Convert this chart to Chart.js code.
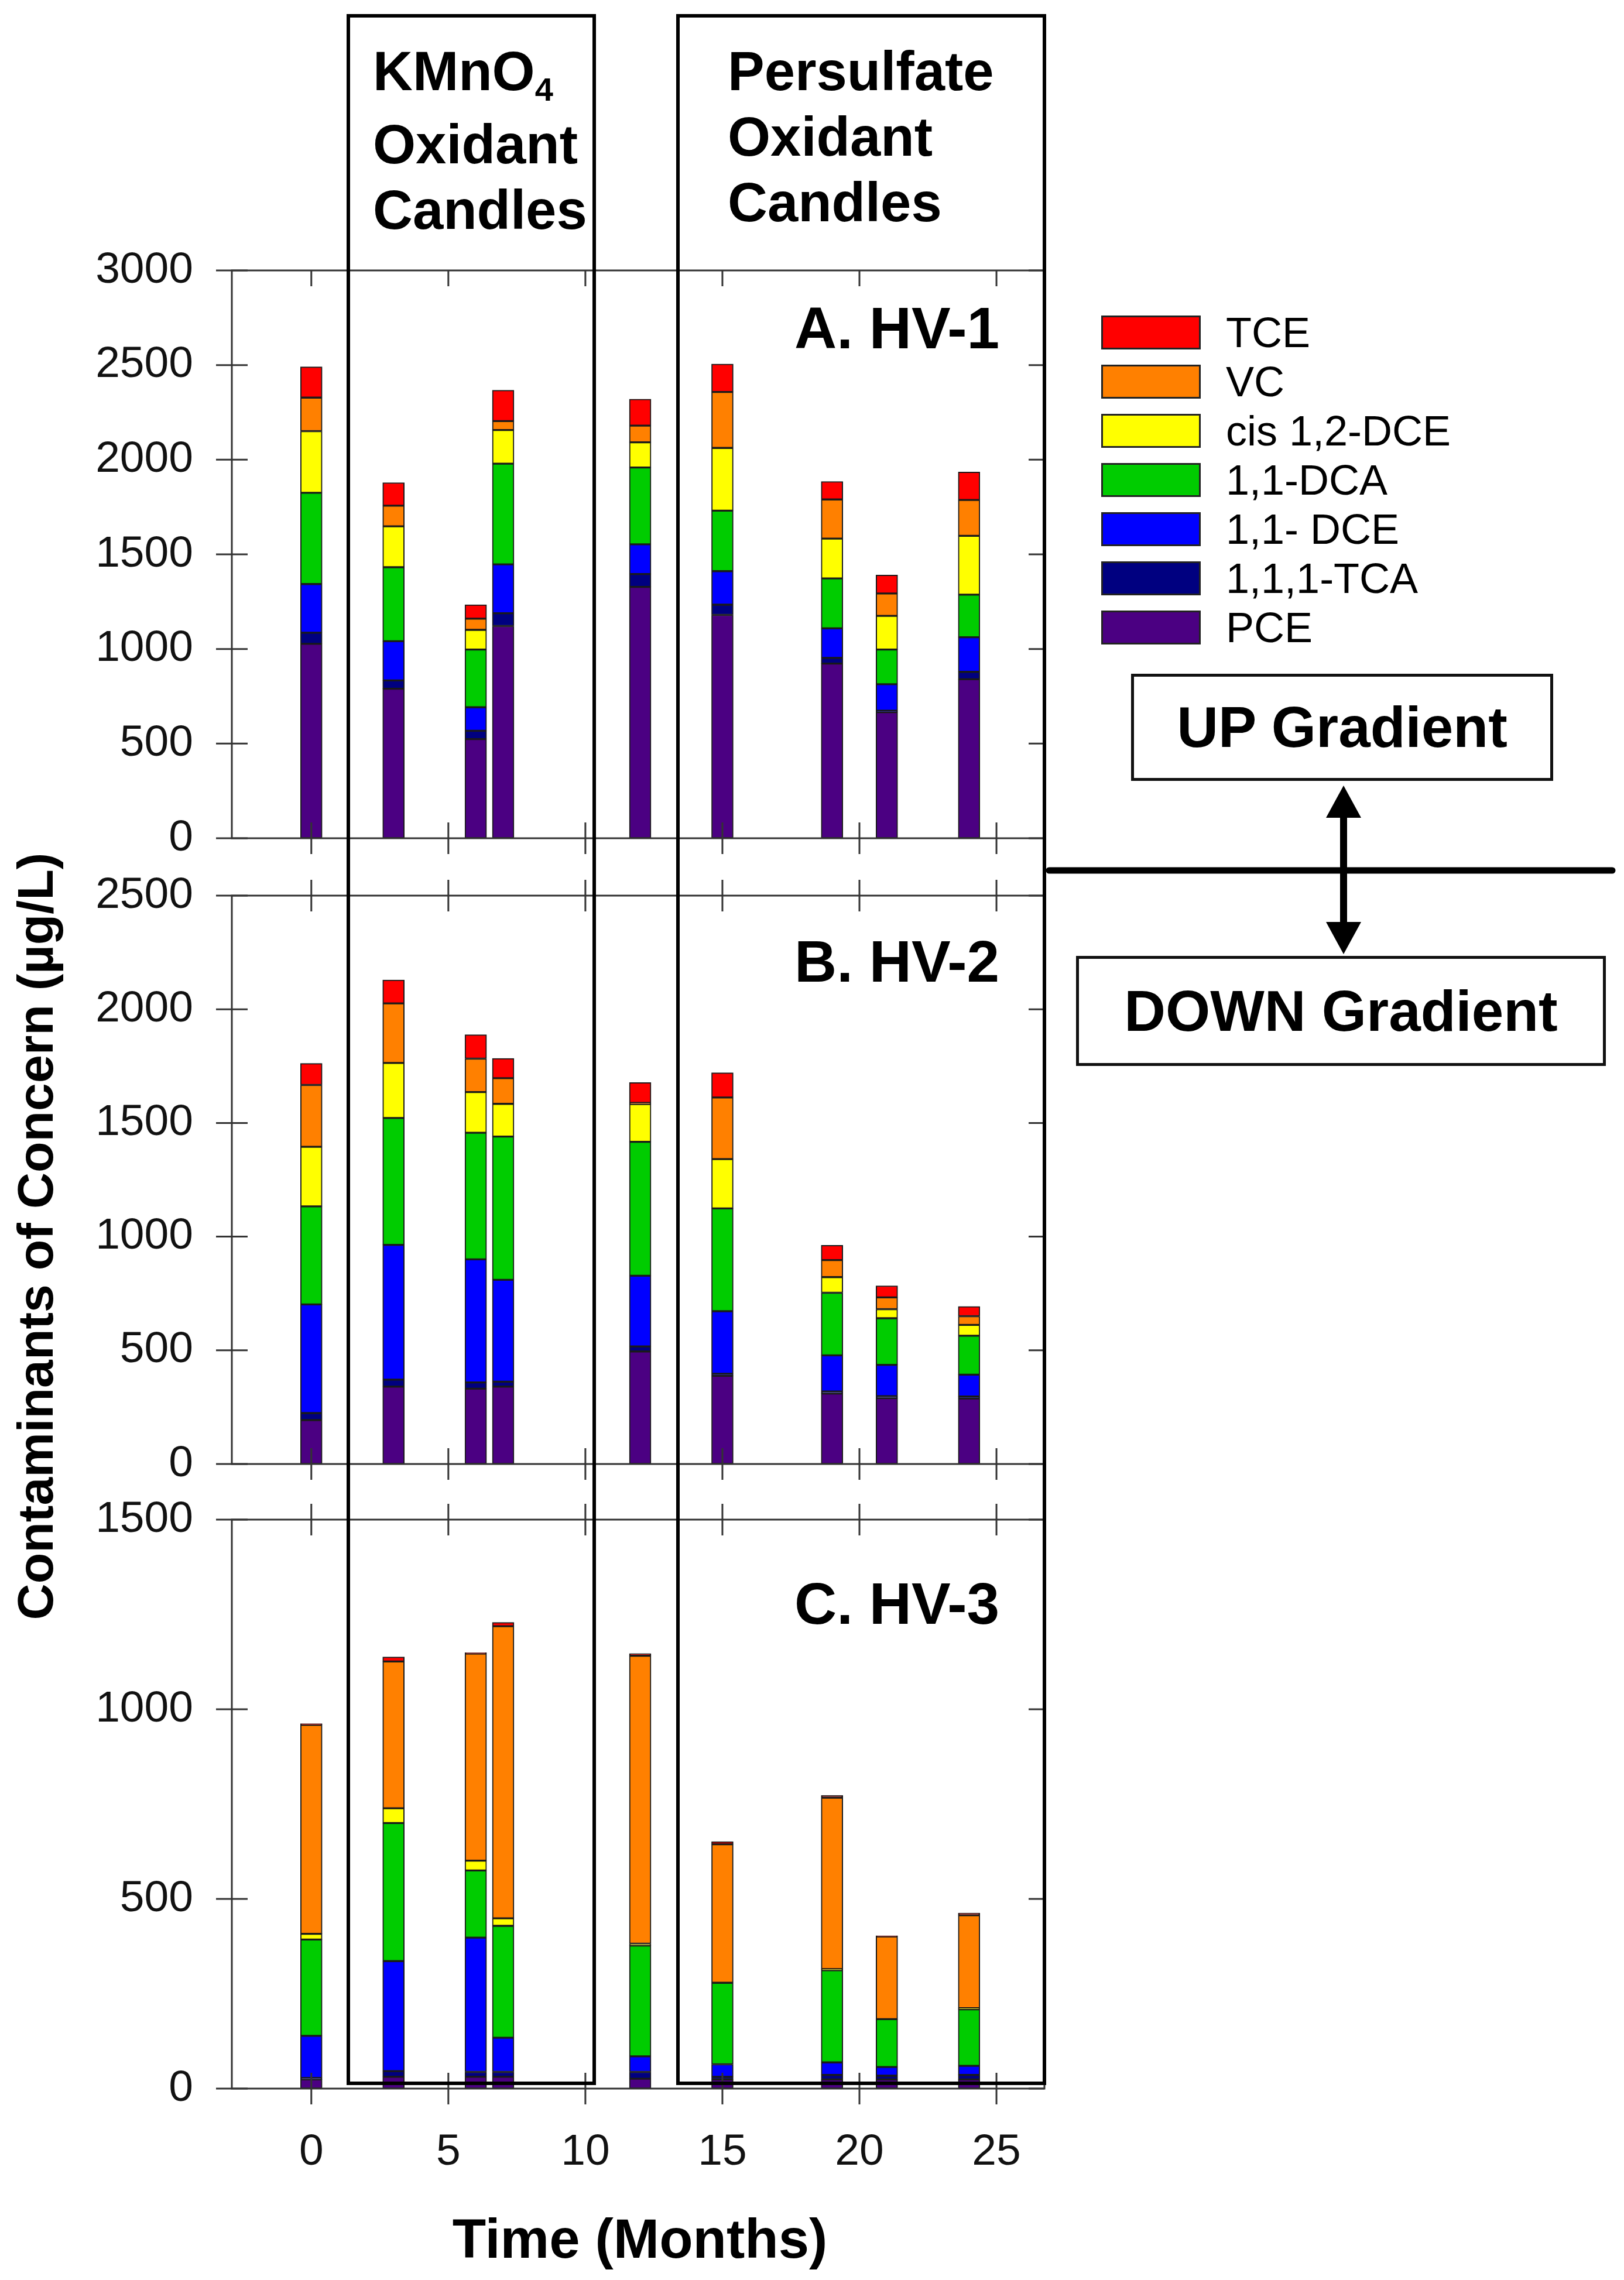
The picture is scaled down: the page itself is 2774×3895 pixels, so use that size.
<!DOCTYPE html>
<html>
<head>
<meta charset="utf-8">
<title>Contaminants of Concern, HV-1 to HV-3</title>
<script src="https://cdn.jsdelivr.net/npm/chart.js@4.4.1/dist/chart.umd.min.js"></script>
<style>
  html, body { margin: 0; padding: 0; background: #fff; }
  body {
    position: relative; width: 2774px; height: 3895px; overflow: hidden;
    font-family: 'Liberation Sans', Arial, sans-serif; color: #000;
  }
  canvas { position: absolute; display: block; }
  .note { position: absolute; white-space: nowrap; font-weight: bold; z-index: 3; }
  .oxbox { position: absolute; box-sizing: border-box; border: 6px solid #000; z-index: 2; }
  .oxtext { font-size: 94px; line-height: 112px; }
  .sub { font-size: 56px; position: relative; top: 18px; }
  .panel-label { font-size: 100px; line-height: 100px; }
  .legend-row { position: absolute; left: 1881px; height: 58px; display: flex; align-items: center; z-index: 3; }
  .legend-row .sw { width: 170px; height: 58px; box-sizing: border-box; border: 3px solid #222; }
  .legend-row .tx { margin-left: 43px; font-size: 72px; line-height: 58px; }
  .gradbox {
    position: absolute; box-sizing: border-box; border: 5px solid #111; background: #fff;
    display: flex; align-items: center; justify-content: center;
    font-weight: bold; font-size: 98px; z-index: 3;
  }
  svg { position: absolute; left: 0; top: 0; z-index: 4; }
</style>
</head>
<body>
<script>
// sampling times (months)
const months = [0, 3, 6, 7, 12, 15, 19, 21, 24];

// stacking order, bottom to top
const compounds = ['PCE', '1,1,1-TCA', '1,1- DCE', '1,1-DCA', 'cis 1,2-DCE', 'VC', 'TCE'];
const colours = ['#4b0082', '#000080', '#0000ff', '#00cc00', '#ffff00', '#ff8000', '#ff0000'];

// A. HV-1 (ug/L)
const hv1PCE = [1027, 790, 524, 1121, 1328, 1180, 923, 666, 840];
const hv1TCA = [59, 44, 44, 68, 68, 54, 30, 8, 39];
const hv1DCE = [257, 207, 124, 258, 157, 177, 156, 140, 183];
const hv1DCA = [482, 391, 305, 532, 406, 320, 264, 183, 225];
const hv1Cis = [326, 216, 104, 178, 133, 331, 210, 178, 311];
const hv1VC = [177, 109, 59, 47, 88, 296, 207, 118, 189];
const hv1TCE = [163, 122, 74, 163, 140, 148, 95, 98, 148];

// B. HV-2
const hv2PCE = [193, 340, 331, 340, 495, 388, 310, 290, 288];
const hv2TCA = [31, 31, 28, 22, 22, 9, 9, 8, 9];
const hv2DCE = [478, 593, 541, 448, 311, 275, 159, 138, 96];
const hv2DCA = [431, 558, 557, 630, 589, 452, 275, 205, 171];
const hv2Cis = [262, 242, 179, 144, 166, 217, 69, 40, 48];
const hv2VC = [272, 262, 147, 113, 5, 271, 75, 52, 38];
const hv2TCE = [95, 103, 105, 87, 90, 109, 65, 51, 43];

// C. HV-3
const hv3PCE = [24, 31, 31, 31, 26, 24, 24, 24, 24];
const hv3TCA = [4, 15, 13, 13, 18, 7, 12, 10, 12];
const hv3DCE = [111, 290, 354, 90, 41, 33, 33, 23, 24];
const hv3DCA = [254, 364, 177, 295, 292, 215, 243, 126, 149];
const hv3Cis = [15, 39, 26, 20, 5, 0, 3, 0, 3];
const hv3VC = [551, 387, 546, 770, 759, 365, 452, 218, 245];
const hv3TCE = [3, 12, 2, 10, 6, 7, 6, 2, 6];

const yMaxes = [3000, 2500, 1500];
const yStep = 500;
const xTickStep = 5;
const xMin = -2.9, xMax = 26.75;

// page layout (px)
const plotLeft = 396, plotRight = 1784;
const panels = [
  { label: 'A. HV-1', series: [hv1PCE, hv1TCA, hv1DCE, hv1DCA, hv1Cis, hv1VC, hv1TCE], max: yMaxes[0],
    top: 462, bottom: 1432, showX: false, topOut: false, labelBase: 595 },
  { label: 'B. HV-2', series: [hv2PCE, hv2TCA, hv2DCE, hv2DCA, hv2Cis, hv2VC, hv2TCE], max: yMaxes[1],
    top: 1530, bottom: 2501, showX: false, topOut: true, labelBase: 1677 },
  { label: 'C. HV-3', series: [hv3PCE, hv3TCA, hv3DCE, hv3DCA, hv3Cis, hv3VC, hv3TCE], max: yMaxes[2],
    top: 2596, bottom: 3568, showX: true, topOut: true, labelBase: 2774 }
];

Chart.defaults.font.family = "'Liberation Sans', Arial, sans-serif";
Chart.defaults.color = '#111';

// box round the plot with ticks crossing the spines
const panelFrame = {
  id: 'panelFrame',
  afterDraw(chart, args, opts) {
    const { ctx, chartArea: a, scales: { x, y } } = chart;
    const t = 27;
    ctx.save();
    ctx.strokeStyle = '#333';
    ctx.lineWidth = 3;
    ctx.strokeRect(a.left, a.top, a.right - a.left, a.bottom - a.top);
    ctx.beginPath();
    y.ticks.forEach(tk => {
      const py = y.getPixelForValue(tk.value);
      ctx.moveTo(a.left - t, py); ctx.lineTo(a.left + t, py);
      ctx.moveTo(a.right - t, py); ctx.lineTo(a.right, py);
    });
    x.ticks.forEach(tk => {
      const px = x.getPixelForValue(tk.value);
      ctx.moveTo(px, a.bottom - t); ctx.lineTo(px, a.bottom + t);
      ctx.moveTo(px, a.top + t); ctx.lineTo(px, opts.topOut ? a.top - t : a.top);
    });
    ctx.stroke();
    ctx.restore();
  }
};

function panelConfig(p) {
  const xAxisH = p.showX ? 140 : 0;
  return {
    type: 'bar',
    data: {
      datasets: p.series.map((vals, k) => ({
        label: compounds[k],
        data: months.map((m, i) => ({ x: m, y: vals[i] })),
        backgroundColor: colours[k],
        borderColor: '#1a1a1a',
        borderWidth: 2,
        borderSkipped: false,
        barThickness: 37
      }))
    },
    options: {
      responsive: false,
      maintainAspectRatio: false,
      animation: false,
      devicePixelRatio: 1,
      events: [],
      layout: { padding: { top: 50, right: 50, bottom: p.showX ? 60 : 50, left: 0 } },
      plugins: {
        legend: { display: false },
        tooltip: { enabled: false },
        panelFrame: { topOut: p.topOut }
      },
      scales: {
        x: {
          type: 'linear', stacked: true, min: xMin, max: xMax, offset: false,
          grid: { display: false, drawTicks: false },
          border: { display: false },
          ticks: { display: p.showX, stepSize: xTickStep, includeBounds: false, padding: 64,
                   font: { size: 75 }, color: '#111', callback: v => String(v) },
          afterFit: s => { s.height = xAxisH; }
        },
        y: {
          stacked: true, min: 0, max: p.max,
          grid: { display: false, drawTicks: false },
          border: { display: false },
          ticks: { stepSize: yStep, padding: 66, font: { size: 75 }, color: '#111', callback: v => String(v) },
          afterFit: s => { s.width = plotLeft; }
        }
      }
    },
    plugins: [panelFrame]
  };
}

// build each panel twice: first to learn the margins round the plot area,
// then at the size that puts the plot area where the figure has it
const charts = panels.map(p => {
  const canvas = document.createElement('canvas');
  canvas.width = 1900;
  canvas.height = 1300;
  document.body.appendChild(canvas);
  let chart = new Chart(canvas.getContext('2d'), panelConfig(p));
  const a = chart.chartArea;
  const w = canvas.width + (plotRight - plotLeft) - (a.right - a.left);
  const h = canvas.height + (p.bottom - p.top) - (a.bottom - a.top);
  const offX = a.left, offY = a.top;
  chart.destroy();
  canvas.width = w;
  canvas.height = h;
  canvas.style.width = w + 'px';
  canvas.style.height = h + 'px';
  canvas.style.left = (plotLeft - offX) + 'px';
  canvas.style.top = (p.top - offY) + 'px';
  chart = new Chart(canvas.getContext('2d'), panelConfig(p));
  const b = chart.chartArea;
  canvas.style.left = (plotLeft - b.left) + 'px';
  canvas.style.top = (p.top - b.top) + 'px';
  return chart;
});

// ---- annotations ----
function addDiv(cls, html, style) {
  const d = document.createElement('div');
  d.className = cls;
  d.innerHTML = html;
  Object.assign(d.style, style);
  document.body.appendChild(d);
  return d;
}

// treatment boxes, horizontal extent taken from the month scale
const xs = charts[0].scales.x;
const xShift = plotLeft - charts[0].chartArea.left;
const boxTop = 27, boxBottom = 3559;
[[1.35, 10.32], [13.38, xMax]].forEach(([m0, m1]) => {
  const l = xs.getPixelForValue(m0) + xShift, r = xs.getPixelForValue(m1) + xShift;
  addDiv('oxbox', '', {
    left: (l - 3) + 'px', top: (boxTop - 3) + 'px',
    width: (r - l + 6) + 'px', height: (boxBottom - boxTop + 6) + 'px'
  });
});
addDiv('note oxtext', 'KMnO<span class="sub">4</span><br>Oxidant<br>Candles', { left: '637px', top: '66px' });
addDiv('note oxtext', 'Persulfate<br>Oxidant<br>Candles', { left: '1243px', top: '66px' });

// panel names, right aligned
panels.forEach(p => {
  const d = addDiv('note panel-label', p.label, { top: (p.labelBase - 85) + 'px' });
  d.style.left = (1707 - d.offsetWidth) + 'px';
});

// legend, top entry is the top of the stack
compounds.map((c, k) => ({ name: c, colour: colours[k] })).reverse().forEach((item, i) => {
  const row = addDiv('legend-row', '<div class="sw"></div><div class="tx"></div>', { top: (539 + i * 84) + 'px' });
  row.querySelector('.sw').style.background = item.colour;
  row.querySelector('.tx').textContent = item.name;
});

addDiv('gradbox', 'UP Gradient', { left: '1932px', top: '1151px', width: '721px', height: '183px' });
addDiv('gradbox', 'DOWN Gradient', { left: '1838px', top: '1633px', width: '905px', height: '188px' });

// axis titles
addDiv('note', 'Contaminants of Concern (µg/L)', {
  left: '60px', top: '2112px', fontSize: '86px', lineHeight: '86px',
  transform: 'translate(-50%, -50%) rotate(-90deg)'
});
addDiv('note', 'Time (Months)', {
  left: '1093px', top: '3778px', fontSize: '94px', lineHeight: '94px', transform: 'translateX(-50%)'
});

// divider line and double arrow
const svgNS = 'http://www.w3.org/2000/svg';
const svg = document.createElementNS(svgNS, 'svg');
svg.setAttribute('width', 2774);
svg.setAttribute('height', 3895);
svg.innerHTML =
  '<line x1="1792" y1="1487" x2="2754" y2="1487" stroke="#000" stroke-width="11" stroke-linecap="round"/>' +
  '<line x1="2295" y1="1385" x2="2295" y2="1585" stroke="#000" stroke-width="12"/>' +
  '<polygon points="2295,1342 2265,1397 2325,1397" fill="#000"/>' +
  '<polygon points="2295,1630 2265,1575 2325,1575" fill="#000"/>';
document.body.appendChild(svg);
</script>
</body>
</html>
